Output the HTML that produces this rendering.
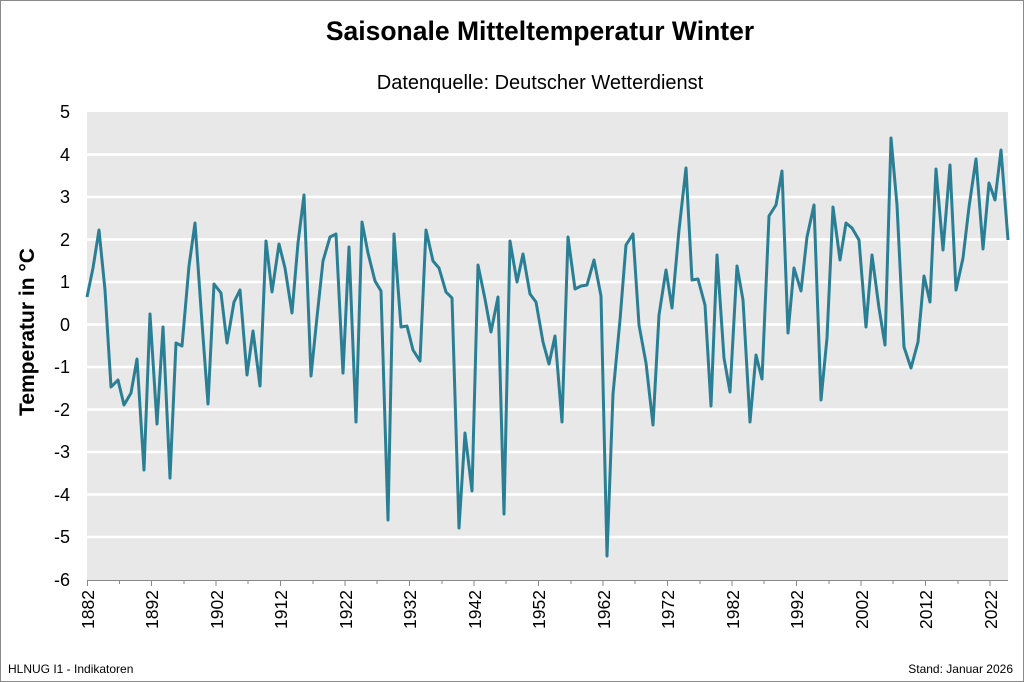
<!DOCTYPE html>
<html><head><meta charset="utf-8"><style>
body{margin:0;background:#fff}
svg{display:block;font-family:"Liberation Sans",Arial,sans-serif}
</style></head><body>
<svg width="1024" height="682" viewBox="0 0 1024 682">
<rect x="0.5" y="0.5" width="1023" height="681" fill="#fff" stroke="#8a8a8a"/>
<text x="540" y="40" text-anchor="middle" font-size="26.5" font-weight="bold">Saisonale Mitteltemperatur Winter</text>
<text x="540" y="89" text-anchor="middle" font-size="20">Datenquelle: Deutscher Wetterdienst</text>
<rect x="87" y="112" width="921" height="468" fill="#e8e8e8"/>
<g stroke="#fff" stroke-width="2.5">
<line x1="87" x2="1008" y1="154.5" y2="154.5"/><line x1="87" x2="1008" y1="197" y2="197"/>
<line x1="87" x2="1008" y1="239.5" y2="239.5"/><line x1="87" x2="1008" y1="282" y2="282"/>
<line x1="87" x2="1008" y1="324.5" y2="324.5"/><line x1="87" x2="1008" y1="367" y2="367"/>
<line x1="87" x2="1008" y1="409.5" y2="409.5"/><line x1="87" x2="1008" y1="452" y2="452"/>
<line x1="87" x2="1008" y1="494.5" y2="494.5"/><line x1="87" x2="1008" y1="537" y2="537"/>
</g>
<line x1="87" x2="1008" y1="580.5" y2="580.5" stroke="#888" stroke-width="1"/>
<g stroke="#888"><line x1="87.5" x2="87.5" y1="580" y2="586"/><line x1="119.5" x2="119.5" y1="580" y2="584"/><line x1="151.5" x2="151.5" y1="580" y2="586"/><line x1="184" x2="184" y1="580" y2="584"/><line x1="216" x2="216" y1="580" y2="586"/><line x1="248" x2="248" y1="580" y2="584"/><line x1="280.5" x2="280.5" y1="580" y2="586"/><line x1="313" x2="313" y1="580" y2="584"/><line x1="345" x2="345" y1="580" y2="586"/><line x1="377" x2="377" y1="580" y2="584"/><line x1="409.5" x2="409.5" y1="580" y2="586"/><line x1="442" x2="442" y1="580" y2="584"/><line x1="474" x2="474" y1="580" y2="586"/><line x1="506" x2="506" y1="580" y2="584"/><line x1="538.5" x2="538.5" y1="580" y2="586"/><line x1="571" x2="571" y1="580" y2="584"/><line x1="603" x2="603" y1="580" y2="586"/><line x1="635" x2="635" y1="580" y2="584"/><line x1="667.5" x2="667.5" y1="580" y2="586"/><line x1="700" x2="700" y1="580" y2="584"/><line x1="732" x2="732" y1="580" y2="586"/><line x1="764" x2="764" y1="580" y2="584"/><line x1="796.5" x2="796.5" y1="580" y2="586"/><line x1="829" x2="829" y1="580" y2="584"/><line x1="861" x2="861" y1="580" y2="586"/><line x1="893" x2="893" y1="580" y2="584"/><line x1="925.5" x2="925.5" y1="580" y2="586"/><line x1="958" x2="958" y1="580" y2="584"/><line x1="990" x2="990" y1="580" y2="586"/></g>
<g font-size="18" text-anchor="end">
<text x="70" y="118">5</text><text x="70" y="161">4</text><text x="70" y="203">3</text><text x="70" y="246">2</text><text x="70" y="288">1</text><text x="70" y="331">0</text><text x="70" y="373">-1</text><text x="70" y="416">-2</text><text x="70" y="458">-3</text><text x="70" y="501">-4</text><text x="70" y="543">-5</text><text x="70" y="586">-6</text>
</g>
<g font-size="17.5" text-anchor="end">
<text transform="translate(94,590) rotate(-90)">1882</text>
<text transform="translate(158,590) rotate(-90)">1892</text>
<text transform="translate(223,590) rotate(-90)">1902</text>
<text transform="translate(287,590) rotate(-90)">1912</text>
<text transform="translate(352,590) rotate(-90)">1922</text>
<text transform="translate(416,590) rotate(-90)">1932</text>
<text transform="translate(481,590) rotate(-90)">1942</text>
<text transform="translate(545,590) rotate(-90)">1952</text>
<text transform="translate(610,590) rotate(-90)">1962</text>
<text transform="translate(674,590) rotate(-90)">1972</text>
<text transform="translate(739,590) rotate(-90)">1982</text>
<text transform="translate(803,590) rotate(-90)">1992</text>
<text transform="translate(868,590) rotate(-90)">2002</text>
<text transform="translate(932,590) rotate(-90)">2012</text>
<text transform="translate(997,590) rotate(-90)">2022</text>
</g>
<text transform="translate(34,332) rotate(-90)" text-anchor="middle" font-size="21" font-weight="bold">Temperatur in °C</text>
<polyline fill="none" stroke="#2a7f94" stroke-width="3" stroke-linejoin="round" points="87,297 93,268 99,230 105,290 111,387 118,380 124,405 131,393 137,359 144,470 150,314 157,424 163,327 170,478 176,343 182,346 189,266 195,223 202,323 208,404 214,284 221,293 227,343 234,302 240,290 247,375 253,331 260,386 266,241 272,292 279,244 285,268 292,313 298,243 304,195 311,376 317,317 323,261 330,237 336,234 343,373 349,247 356,422 362,222 368,253 375,281 381,291 388,520 394,234 401,327 407,326 413,350 420,361 426,230 433,261 439,268 446,292 452,298 459,528 465,433 472,491 478,265 485,299 491,332 498,297 504,514 510,241 517,282 523,254 530,294 536,302 543,342 549,364 555,336 562,422 568,237 575,289 581,286 587,285 594,260 601,296 607,556 613,394 620,320 626,245 633,234 639,325 646,363 653,425 659,315 666,270 672,308 679,230 686,168 692,280 698,279 705,305 711,406 717,255 724,358 730,392 737,266 743,300 750,422 756,355 762,379 769,216 776,205 782,171 788,333 794,268 801,291 807,237 814,205 821,400 827,338 833,207 840,260 846,223 852,228 859,240 866,327 872,255 879,308 885,345 891,138 897,205 904,347 911,368 918,342 924,276 930,302 936,169 943,250 950,165 956,290 963,258 969,207 976,159 983,249 989,183 995,200 1001,150 1008,240"/>
<text x="8" y="673" font-size="12">HLNUG I1 - Indikatoren</text>
<text x="1013" y="673" font-size="12" text-anchor="end">Stand: Januar 2026</text>
</svg>
</body></html>
